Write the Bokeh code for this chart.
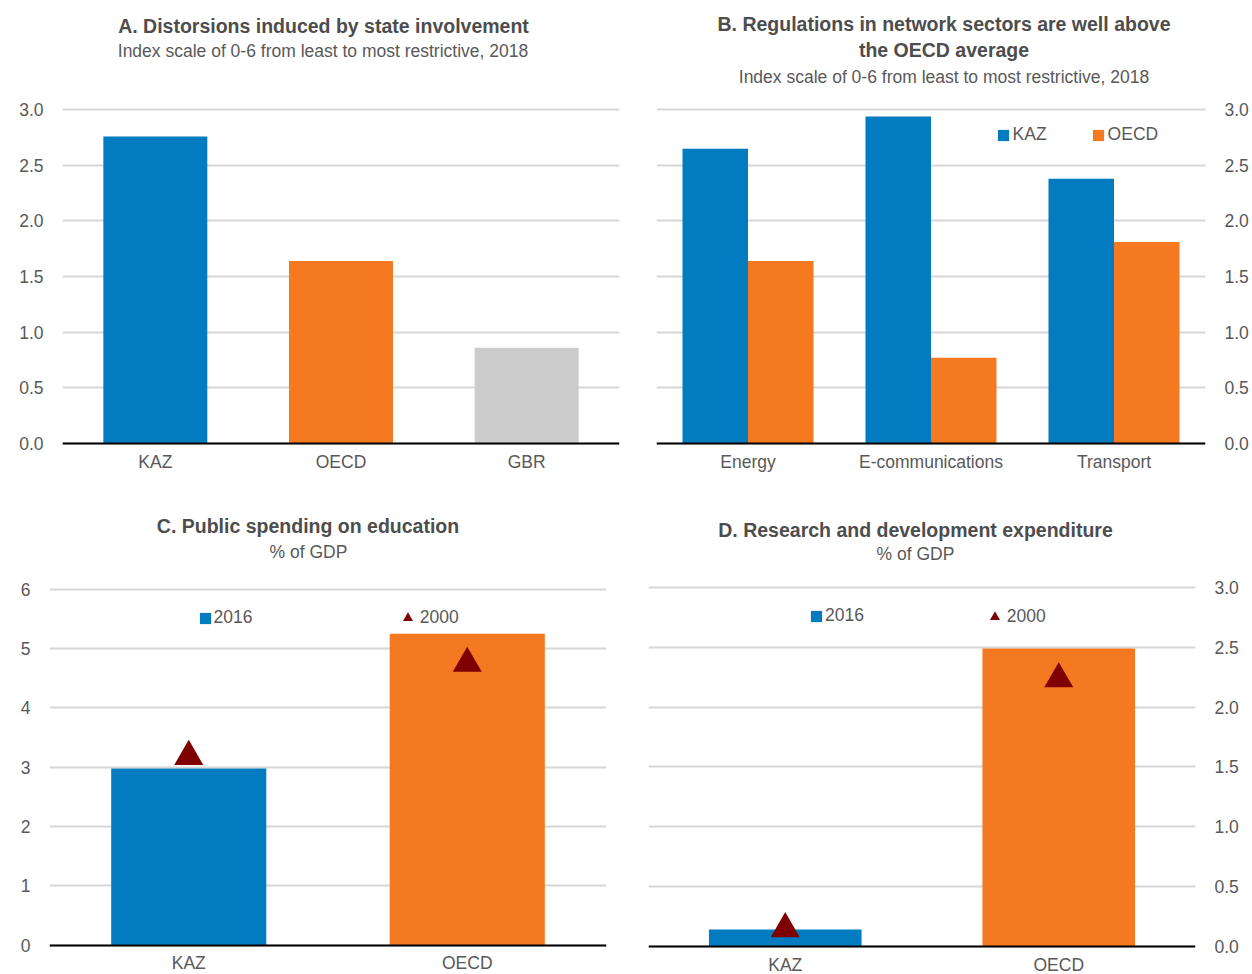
from bokeh.plotting import figure
from bokeh.models import (FactorRange, Range1d, Label, Legend, LegendItem,
                          ColumnDataSource, FixedTicker, PrintfTickFormatter)
from bokeh.transform import dodge
from bokeh.layouts import row, column
from bokeh.embed import file_html
from bokeh.resources import INLINE

# ---------------- data ----------------
a_countries = ["KAZ", "OECD", "GBR"]
a_values = [2.76, 1.64, 0.86]

b_sectors = ["Energy", "E-communications", "Transport"]
b_kaz = [2.65, 2.94, 2.38]
b_oecd = [1.64, 0.77, 1.81]

c_countries = ["KAZ", "OECD"]
c_2016 = [2.98, 5.25]
c_2000 = [3.25, 4.82]

d_countries = ["KAZ", "OECD"]
d_2016 = [0.14, 2.49]
d_2000 = [0.18, 2.27]

ab_ticks = [0, 0.5, 1.0, 1.5, 2.0, 2.5, 3.0]
c_ticks = [0, 1, 2, 3, 4, 5, 6]
d_ticks = [0, 0.5, 1.0, 1.5, 2.0, 2.5, 3.0]

# ---------------- style ----------------
FONT = "'Liberation Sans', Arial, sans-serif"
BLUE = "#037BC1"
ORANGE = "#F47920"
GREY = "#CCCCCC"
DARKRED = "#7F0000"
TXT = "#595959"
TTL = "#4D4D4D"
TICK_SIZE = "17.5px"
TRI_SIZE = 29


def make_fig(width, height, factors, top_val, px_top, px_zero, ticks, fmt,
             border_l, border_r, right=False, xstandoff=9, ystandoff=19):
    # frame spans the full figure height; px_top / px_zero are the pixel rows
    # (from the figure top) of the highest tick and of zero
    ppu = (px_zero - px_top) / top_val
    y_hi = top_val + px_top / ppu
    y_lo = -(height - px_zero) / ppu
    p = figure(width=width, height=height, x_range=FactorRange(*factors),
               y_range=Range1d(y_lo, y_hi), output_backend="svg",
               toolbar_location=None, tools="", title_location=None,
               y_axis_location="right" if right else "left",
               min_border_left=border_l, min_border_right=border_r,
               min_border_top=0, min_border_bottom=0)
    p.outline_line_color = None
    p.background_fill_color = "white"
    p.border_fill_color = "white"
    p.xgrid.grid_line_color = None
    p.ygrid.grid_line_color = "#D6D6D6"
    p.ygrid.grid_line_width = 2
    p.ygrid.ticker = FixedTicker(ticks=ticks)
    p.yaxis.ticker = FixedTicker(ticks=ticks)
    p.yaxis.formatter = PrintfTickFormatter(format=fmt)
    p.yaxis.axis_line_color = None
    p.xaxis.axis_line_color = "black"
    p.xaxis.axis_line_width = 2
    for ax in (p.xaxis, p.yaxis):
        ax.major_tick_line_color = None
        ax.minor_tick_line_color = None
        ax.major_tick_out = 0
        ax.major_tick_in = 0
        ax.minor_tick_out = 0
        ax.minor_tick_in = 0
        ax.major_label_text_font = FONT
        ax.major_label_text_font_size = TICK_SIZE
        ax.major_label_text_color = TXT
    p.yaxis.major_label_standoff = ystandoff
    p.xaxis.major_label_standoff = xstandoff
    p.xaxis.fixed_location = 0
    return p, ppu


def add_text(p, x, y, text, bold=False):
    p.add_layout(Label(x=x, y=y, x_units="screen", y_units="screen", text=text,
                       text_align="center", text_baseline="alphabetic",
                       text_font=FONT,
                       text_font_size="19.5px" if bold else "17.5px",
                       text_font_style="bold" if bold else "normal",
                       text_color=TTL if bold else TXT))


def add_legend(p, renderer, label, loc, glyph, standoff, index=0):
    lg = Legend(items=[LegendItem(label=label, renderers=[renderer], index=index)],
                location=loc, orientation="horizontal",
                glyph_width=glyph, glyph_height=glyph, label_standoff=standoff,
                padding=0, margin=0, spacing=0,
                border_line_color=None, background_fill_alpha=0,
                label_text_font=FONT, label_text_font_size=TICK_SIZE,
                label_text_color=TXT)
    p.add_layout(lg)


# ---------------- Panel A ----------------
pa, _ = make_fig(637, 480, a_countries, 3.0, 109.3, 442.7, ab_ticks, "%.1f", 62, 18,
                 xstandoff=9)
src_a = ColumnDataSource(dict(cat=a_countries, val=a_values, color=[BLUE, ORANGE, GREY]))
pa.vbar(x="cat", top="val", width=0.56, source=src_a, fill_color="color", line_color=None)
add_text(pa, 261, 454.7, "A. Distorsions induced by state involvement", bold=True)
add_text(pa, 260.5, 429.7, "Index scale of 0-6 from least to most restrictive, 2018")

# ---------------- Panel B ----------------
pb, _ = make_fig(615, 480, b_sectors, 3.0, 109.3, 442.7, ab_ticks, "%.1f", 19, 47,
                 right=True, xstandoff=9)
src_b = ColumnDataSource(dict(cat=b_sectors, kaz=b_kaz, oecd=b_oecd))
rb1 = pb.vbar(x=dodge("cat", -0.179, range=pb.x_range), top="kaz", width=0.358,
              source=src_b, fill_color=BLUE, line_color=None)
rb2 = pb.vbar(x=dodge("cat", 0.179, range=pb.x_range), top="oecd", width=0.358,
              source=src_b, fill_color=ORANGE, line_color=None)
add_text(pb, 287.5, 456.3, "B. Regulations in network sectors are well above", bold=True)
add_text(pb, 287.5, 430.7, "the OECD average", bold=True)
add_text(pb, 287.5, 403.7, "Index scale of 0-6 from least to most restrictive, 2018")
add_legend(pb, rb1, "KAZ", (339.6, 334.6), 14, 3)
add_legend(pb, rb2, "OECD", (434.6, 334.6), 14, 3)

# ---------------- Panel C ----------------
pc, ppu_c = make_fig(627, 494, c_countries, 6.0, 108.7, 464.7, c_ticks, "%d", 49, 21,
                     xstandoff=8)
src_c = ColumnDataSource(dict(cat=c_countries, v16=c_2016, v00=c_2000, color=[BLUE, ORANGE]))
rc1 = pc.vbar(x="cat", top="v16", width=0.557, source=src_c, fill_color="color", line_color=None)
# triangle marker: place the centre of its bounding box on the value
rc2 = pc.scatter(x="cat", y=dodge("v00", -(TRI_SIZE * 0.866 / 6) / ppu_c), source=src_c,
                 marker="triangle", size=TRI_SIZE, fill_color=DARKRED, line_color=None)
add_text(pc, 258.5, 448.7, "C. Public spending on education", bold=True)
add_text(pc, 259, 422.7, "% of GDP")
add_legend(pc, rc1, "2016", (148.6, 345.8), 14, 2)
add_legend(pc, rc2, "2000", (345.7, 343.7), 25, 0)

# ---------------- Panel D ----------------
pd_, ppu_d = make_fig(625, 494, d_countries, 3.0, 107.0, 465.7, d_ticks, "%.1f", 21, 57,
                      right=True, xstandoff=9)
src_d = ColumnDataSource(dict(cat=d_countries, v16=d_2016, v00=d_2000, color=[BLUE, ORANGE]))
rd1 = pd_.vbar(x="cat", top="v16", width=0.558, source=src_d, fill_color="color", line_color=None)
rd2 = pd_.scatter(x="cat", y=dodge("v00", -(TRI_SIZE * 0.866 / 6) / ppu_d), source=src_d,
                  marker="triangle", size=TRI_SIZE, fill_color=DARKRED, line_color=None)
add_text(pd_, 267, 444.7, "D. Research and development expenditure", bold=True)
add_text(pd_, 267, 420.3, "% of GDP")
add_legend(pd_, rd1, "2016", (161.1, 348), 14, 2)
add_legend(pd_, rd2, "2000", (333.7, 345.4), 25, 0)

layout = column(row(pa, pb), row(pc, pd_))
open("out.html", "w").write(file_html(layout, INLINE))
